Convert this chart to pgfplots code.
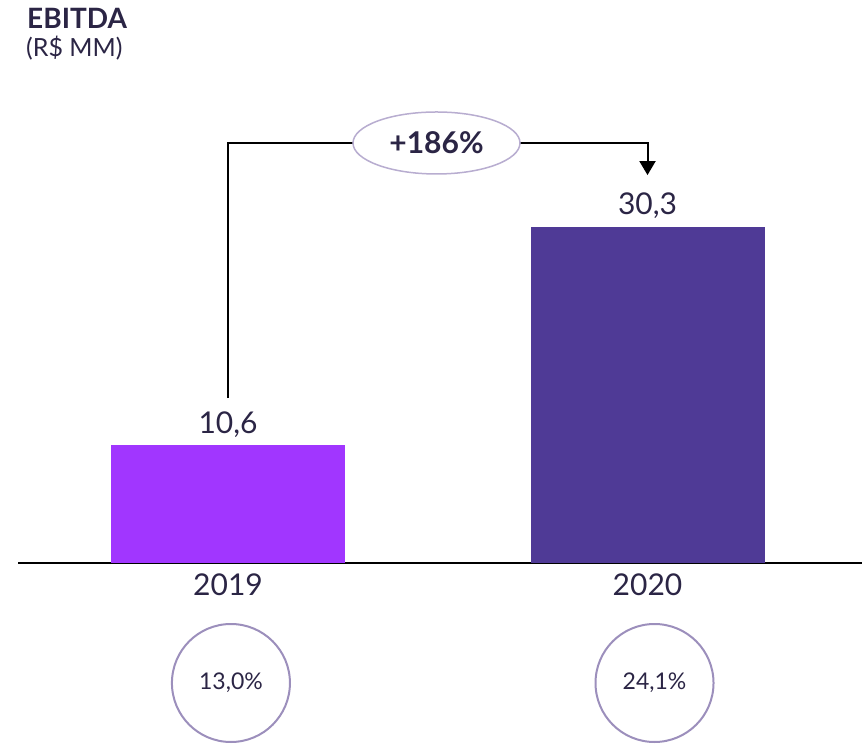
\documentclass[border=0pt]{standalone}
\usepackage{pgfplots}
\pgfplotsset{compat=1.18}
\usepackage{fontspec}
\setmainfont{Lato}
\usetikzlibrary{arrows.meta}
\definecolor{txt}{HTML}{2B2545}
\definecolor{barA}{HTML}{A136FF}
\definecolor{barB}{HTML}{4F3A96}
\definecolor{ringc}{HTML}{9C8FBC}
\definecolor{ellc}{HTML}{B8ADD0}
\begin{document}
\begin{tikzpicture}
\useasboundingbox (0,0) rectangle (862pt,-745pt);
\node[anchor=base west, text=txt, inner sep=0pt, font=\fontsize{28}{32}\selectfont\bfseries] at (27pt,-28pt) {EBITDA};
\node[anchor=base west, text=txt, inner sep=0pt, font=\fontsize{25}{29}\selectfont] at (26pt,-56pt) {(R\$ MM)};
\begin{axis}[
  at={(18pt,-563pt)}, anchor=south west,
  scale only axis, width=844pt, height=444pt,
  xmin=-0.5006, xmax=1.5113, ymin=0, ymax=40,
  axis x line*=bottom, axis y line=none,
  x axis line style={line width=2pt, black},
  xtick={0,1}, xticklabels={2019,2020},
  major tick length=0pt,
  x tick label style={font=\fontsize{30}{36}\selectfont, text=txt, yshift=-7pt},
  clip=false,
  ybar, bar width=234pt,
  point meta=explicit symbolic,
  nodes near coords,
  every node near coord/.append style={anchor=base, yshift=12pt, font=\fontsize{30}{36}\selectfont, text=txt},
]
\addplot[fill=barA, draw=none, bar shift=0pt] coordinates {(0,10.6) [10,6]};
\addplot[fill=barB, draw=none, bar shift=0pt] coordinates {(1,30.3) [30,3]};
\draw[line width=2pt, black, -{Triangle[length=14pt,width=16pt]}]
  (axis cs:0,14.86) -- (axis cs:0,37.84) -- (axis cs:1,37.84) -- (axis cs:1,34.95);
\draw[fill=white, draw=ellc, line width=1.5pt] (axis cs:0.497,37.84) ellipse [x radius=83.5pt, y radius=31pt];
\node[text=txt, font=\fontsize{30}{36}\selectfont\bfseries] at (axis cs:0.497,37.84) {+186\%};
\draw[draw=ringc, line width=2pt] (axis cs:0.007,-10.81) circle [radius=59pt];
\draw[draw=ringc, line width=2pt] (axis cs:1.0167,-10.81) circle [radius=59pt];
\node[text=txt, font=\fontsize{23}{27}\selectfont] at (axis cs:0.007,-10.81) {13,0\%};
\node[text=txt, font=\fontsize{23}{27}\selectfont] at (axis cs:1.0167,-10.81) {24,1\%};
\end{axis}
\end{tikzpicture}
\end{document}
